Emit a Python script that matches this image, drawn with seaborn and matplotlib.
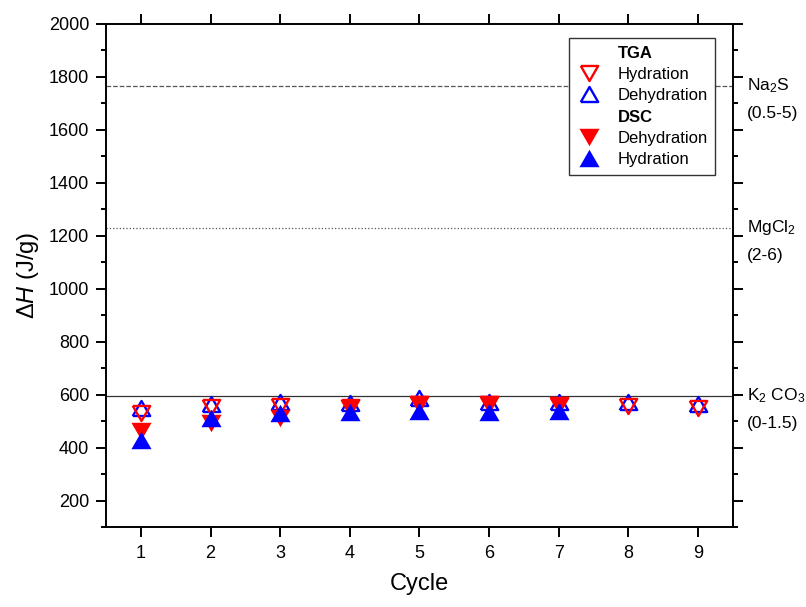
import numpy as np
import pandas as pd
import matplotlib
matplotlib.use("Agg")
import matplotlib.pyplot as plt
import seaborn as sns
from matplotlib.lines import Line2D
from matplotlib.ticker import MultipleLocator
import matplotlib.transforms as mtransforms

# ---- data ----
cycles_tga = [1, 2, 3, 4, 5, 6, 7, 8, 9]
tga_hydration = [530, 552, 557, 554, 566, 566, 560, 555, 548]
tga_dehydration = [550, 566, 572, 568, 585, 572, 572, 572, 566]
cycles_dsc = [1, 2, 3, 4, 5, 6, 7]
dsc_dehydration = [463, 491, 512, 550, 566, 566, 560]
dsc_hydration = [430, 510, 531, 535, 537, 535, 536]

ref_names = ["Na$_2$S", "MgCl$_2$", "K$_2$ CO$_3$"]
ref_ranges = ["(0.5-5)", "(2-6)", "(0-1.5)"]
ref_values = [1766, 1230, 595]
ref_styles = ["--", ":", "-"]

sns.set_style("ticks")
plt.rcParams["font.family"] = ["Liberation Sans", "DejaVu Sans"]
plt.rcParams["mathtext.fontset"] = "custom"
plt.rcParams["mathtext.rm"] = "Liberation Sans"
plt.rcParams["mathtext.it"] = "Liberation Sans:italic"
plt.rcParams["mathtext.bf"] = "Liberation Sans:bold"
plt.rcParams["text.color"] = "black"
plt.rcParams["axes.labelcolor"] = "black"
plt.rcParams["xtick.color"] = "black"
plt.rcParams["ytick.color"] = "black"

fig = plt.figure(figsize=(8.06, 6.07), dpi=100)
ax = fig.add_axes([106 / 806, 1 - 527 / 607, (733 - 106) / 806, (527 - 23.5) / 607])

up = [(-1, -0.866), (1, -0.866), (0, 0.866), (-1, -0.866)]
down = [(-1, 0.866), (1, 0.866), (0, -0.866), (-1, 0.866)]

# reference lines
for v, ls in zip(ref_values, ref_styles):
    ax.axhline(v, color="#333333" if ls == "-" else "#555555", lw=0.9, ls=ls, zorder=1)

open_kw = dict(linestyle="", markerfacecolor="none", markersize=12.5, markeredgewidth=1.7)
fill_kw = dict(linestyle="", markersize=14.5, markeredgewidth=0)

sns.lineplot(x=cycles_tga, y=tga_dehydration, ax=ax, marker=up, color="blue",
             markeredgecolor="blue", zorder=3, **open_kw)
sns.lineplot(x=cycles_tga, y=tga_hydration, ax=ax, marker=down, color="red",
             markeredgecolor="red", zorder=4, **open_kw)
sns.lineplot(x=cycles_dsc, y=dsc_dehydration, ax=ax, marker=down, color="red",
             markerfacecolor="red", markeredgecolor="red", zorder=5, **fill_kw)
sns.lineplot(x=cycles_dsc, y=dsc_hydration, ax=ax, marker=up, color="blue",
             markerfacecolor="blue", markeredgecolor="blue", zorder=6, **fill_kw)

ax.set_xlim(0.5, 9.5)
ax.set_ylim(100, 2000)
ax.xaxis.set_major_locator(MultipleLocator(1))
ax.yaxis.set_major_locator(MultipleLocator(200))
ax.yaxis.set_minor_locator(MultipleLocator(100))
ax.set_yticks(np.arange(200, 2001, 200))

for s in ax.spines.values():
    s.set_visible(True)
    s.set_linewidth(1.4)
    s.set_color("black")

ax.tick_params(axis="both", which="major", direction="out", length=7, width=1.4,
               labelsize=13, color="black", labelcolor="black", top=True, right=True,
               labeltop=False, labelright=False)
ax.tick_params(axis="y", which="minor", direction="out", length=3.8, width=1.4,
               left=True, right=True, color="black")
ax.tick_params(axis="y", which="major", pad=5)
ax.tick_params(axis="x", which="major", pad=6)

ax.set_xlabel("Cycle", fontsize=17, labelpad=8, color="black")
ax.set_ylabel(r"$\Delta\mathit{H}$ (J/g)", fontsize=17, labelpad=6, color="black")

trans = mtransforms.blended_transform_factory(ax.transAxes, ax.transData)
for name, rng, v in zip(ref_names, ref_ranges, ref_values):
    ax.text(1.022, v, name, transform=trans, fontsize=12.5, va="center", ha="left",
            color="black")
    ax.text(1.022, v - 105, rng, transform=trans, fontsize=12.5, va="center", ha="left",
            color="black")

# legend
blank = Line2D([], [], linestyle="", marker=None)
h1 = Line2D([], [], linestyle="", marker=down, markerfacecolor="none",
            markeredgecolor="red", markersize=12.5, markeredgewidth=1.7)
h2 = Line2D([], [], linestyle="", marker=up, markerfacecolor="none",
            markeredgecolor="blue", markersize=12.5, markeredgewidth=1.7)
h3 = Line2D([], [], linestyle="", marker=down, markerfacecolor="red",
            markeredgecolor="red", markersize=14.5, markeredgewidth=0)
h4 = Line2D([], [], linestyle="", marker=up, markerfacecolor="blue",
            markeredgecolor="blue", markersize=14.5, markeredgewidth=0)
leg = ax.legend([blank, h1, h2, blank, h3, h4],
                ["TGA", "Hydration", "Dehydration", "DSC", "Dehydration", "Hydration"],
                loc="upper right", bbox_to_anchor=(0.972, 0.971), fontsize=12,
                frameon=True, fancybox=False, edgecolor="#333333", framealpha=1,
                handlelength=1.6, handletextpad=0.9, labelspacing=0.38,
                borderpad=0.45, borderaxespad=0)
leg.get_frame().set_linewidth(1.0)
for t in leg.get_texts():
    t.set_color("black")
    if t.get_text() in ("TGA", "DSC"):
        t.set_fontweight("bold")

fig.savefig("out.png", dpi=100)
